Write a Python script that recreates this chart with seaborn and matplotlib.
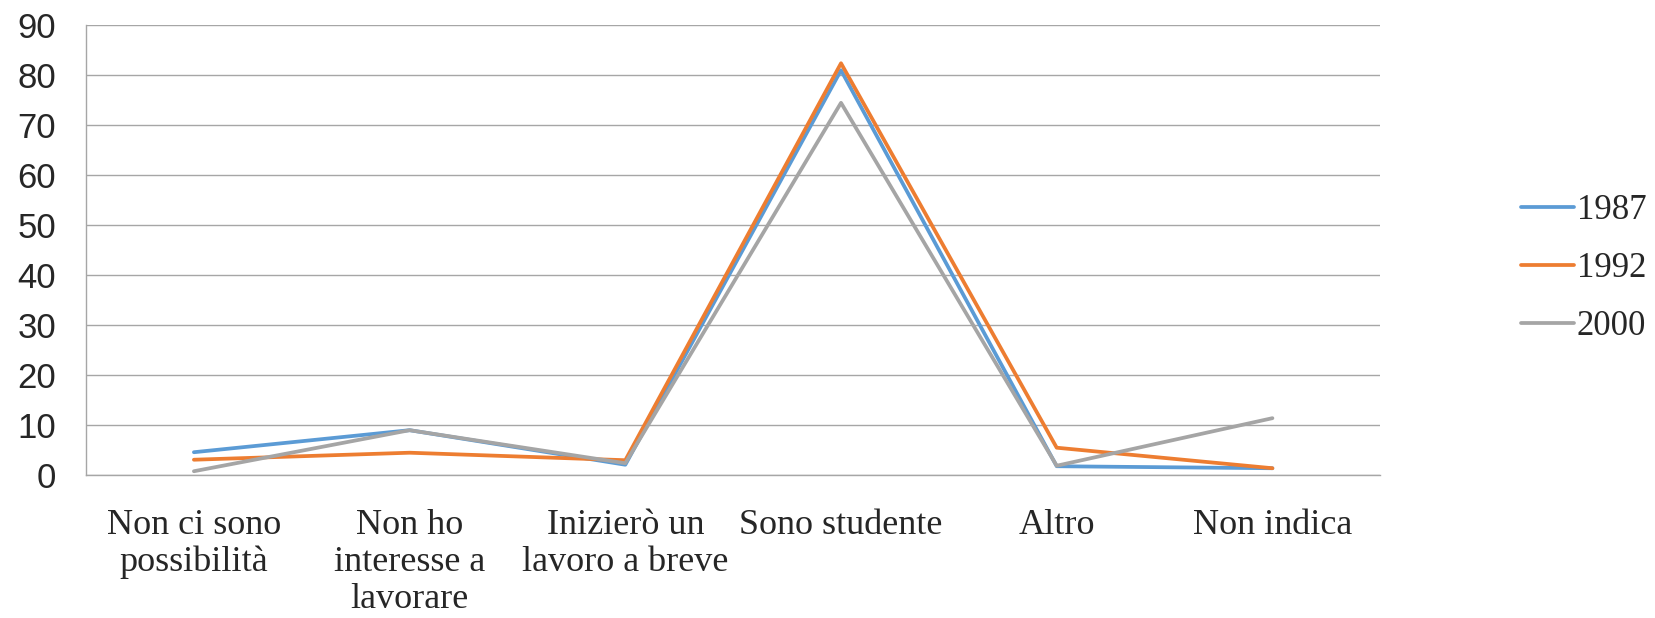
import pandas as pd
import matplotlib.pyplot as plt
import seaborn as sns
from matplotlib.ticker import FixedLocator

categories = [
    "Non ci sono\npossibilità",
    "Non ho\ninteresse a\nlavorare",
    "Inizierò un\nlavoro a breve",
    "Sono studente",
    "Altro",
    "Non indica",
]
years = ["1987", "1992", "2000"]
v1987 = [4.6, 9.0, 2.1, 80.9, 1.8, 1.4]
v1992 = [3.1, 4.5, 3.0, 82.3, 5.5, 1.4]
v2000 = [0.8, 9.0, 2.4, 74.4, 1.9, 11.4]
colors = ["#5B9BD5", "#ED7D31", "#A5A5A5"]

rows = []
for year, vals in zip(years, [v1987, v1992, v2000]):
    for i, v in enumerate(vals):
        rows.append({"pos": i, "valore": v, "anno": year})
df = pd.DataFrame(rows)

sns.set_style("white")
fig = plt.figure(figsize=(16.55, 6.18), dpi=100)
ax = fig.add_axes([0.052, 0.231, 0.782, 0.729])

sns.lineplot(data=df, x="pos", y="valore", hue="anno", palette=colors,
             linewidth=2.7, ax=ax, legend=True)

ax.set_xlim(-0.5, 5.5)
ax.set_ylim(0, 90)
ax.set_yticks(range(0, 91, 10))
ax.yaxis.grid(True, color="#A6A6A6", linewidth=1.0)
ax.set_axisbelow(True)
ax.set_xlabel("")
ax.set_ylabel("")

ax.set_xticks(range(len(categories)))
ax.set_xticklabels(categories, fontfamily="Liberation Serif", fontsize=26,
                   linespacing=1.16)
ax.xaxis.set_minor_locator(FixedLocator([i - 0.5 for i in range(len(categories) + 1)]))
ax.tick_params(axis="x", which="major", length=0, pad=24)
ax.tick_params(axis="x", which="minor", length=7, color="#A6A6A6", width=1)
ax.tick_params(axis="y", length=9.5, color="#A6A6A6", width=1, labelsize=25, pad=12)
for lab in ax.get_yticklabels():
    lab.set_fontfamily("Liberation Sans")

for s in ["top", "right"]:
    ax.spines[s].set_visible(False)
for s in ["left", "bottom"]:
    ax.spines[s].set_color("#A6A6A6")
    ax.spines[s].set_linewidth(1.0)

handles, labels = ax.get_legend_handles_labels()
ax.legend(handles, labels, loc="center left", bbox_to_anchor=(0.9, 0.565),
          bbox_transform=fig.transFigure, frameon=False,
          prop={"family": "Liberation Serif", "size": 25},
          handlelength=1.53, handletextpad=0.08, labelspacing=0.72)

fig.savefig("out.png", dpi=100)
